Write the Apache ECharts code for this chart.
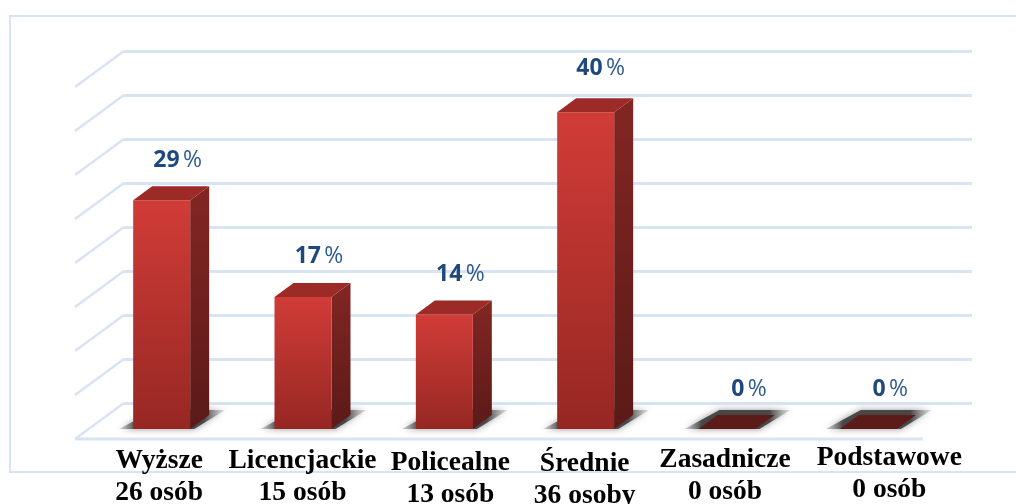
<!DOCTYPE html>
<html>
<head>
<meta charset="utf-8">
<style>html,body{margin:0;padding:0;background:#fff}#chart{width:1016px;height:504px}</style>
<script src="https://cdn.jsdelivr.net/npm/echarts@6/dist/echarts.min.js"></script>
</head>
<body>
<div id="chart"></div>
<script>
var categories = ['Wyższe', 'Licencjackie', 'Policealne', 'Średnie', 'Zasadnicze', 'Podstawowe'];
var peopleText = ['26 osób', '15 osób', '13 osób', '36 osoby', '0 osób', '0 osób'];
var people = [26, 15, 13, 36, 0, 0];
var percents = [29, 17, 14, 40, 0, 0];
var tickValues = [0, 5, 10, 15, 20, 25, 30, 35, 40];

// the original labels are not quite aligned, small nudges per category
var nameNudgeX = [-2.5, -0.5, 6, -1, -2, 21];
var nameNudgeY = [0, 0, 2, 3, -1, -3];
var pctNudgeX = [16, 16, 16, 15, 22, 22];
var pctNudgeY = [1, 0, 1, -3, 1, 1];

var lineColor = '#d8e4f4';
var chart = echarts.init(document.getElementById('chart'));

function grad(top, bottom) {
	return new echarts.graphic.LinearGradient(0, 0, 0, 1, [
		{ offset: 0, color: top },
		{ offset: 1, color: bottom }
	]);
}

// side walls of the floor, one short diagonal per tick plus the front edge
function renderFloor(params, api) {
	var p = api.coord([0, api.value(0)]);
	var left = params.coordSys.x;
	var right = params.coordSys.x + params.coordSys.width;
	var kids = [{
		type: 'line',
		shape: { x1: left, y1: p[1], x2: left - 49, y2: p[1] + 36 },
		style: { stroke: lineColor, lineWidth: 2.5 }
	}];
	if (api.value(0) === 0) {
		kids.push({
			type: 'line',
			shape: { x1: left - 49, y1: p[1] + 36, x2: right - 49, y2: p[1] + 36 },
			style: { stroke: lineColor, lineWidth: 3 }
		});
	}
	return { type: 'group', children: kids };
}

function renderBar(params, api) {
	var i = api.value(0);
	var top = api.coord([i, api.value(1)]);
	var base = api.coord([i, 0]);
	var w = 57, dx = 19, dy = 14;
	var x0 = base[0] - 33 - w / 2;
	var x1 = x0 + w;
	var yb = base[1] + 26;
	var yt = yb - (base[1] - top[1]);
	var kids = [];

	// soft shadow on the floor
	kids.push({
		type: 'polygon',
		shape: { points: [[x0 - 14, yb], [x1 + 4, yb], [x1 + dx + 16, yb - dy - 5], [x0 + dx + 2, yb - dy - 5]] },
		style: {
			fill: new echarts.graphic.LinearGradient(0, 0, 1, 0, [
				{ offset: 0, color: 'rgba(140,140,140,0.35)' },
				{ offset: 0.16, color: 'rgba(60,60,60,0.9)' },
				{ offset: 0.8, color: 'rgba(60,60,60,0.9)' },
				{ offset: 1, color: 'rgba(170,170,170,0.3)' }
			]),
			shadowBlur: 7,
			shadowColor: 'rgba(110,110,110,0.8)'
		}
	});
	if (api.value(1) > 0) {
		kids.push({
			type: 'polygon',
			shape: { points: [[x1, yt], [x1 + dx, yt - dy], [x1 + dx, yb - dy], [x1, yb]] },
			style: { fill: grad('#832623', '#5a1a18') }
		});
		kids.push({
			type: 'rect',
			shape: { x: x0, y: yt, width: w, height: yb - yt },
			style: { fill: grad('#d13c37', '#962723') }
		});
		kids.push({
			type: 'polygon',
			shape: { points: [[x0, yt], [x0 + dx, yt - dy], [x1 + dx, yt - dy], [x1, yt]] },
			style: { fill: '#9c2b28' }
		});
	} else {
		kids.push({
			type: 'polygon',
			shape: { points: [[x0, yt], [x0 + dx, yt - dy], [x1 + dx, yt - dy], [x1, yt]] },
			style: { fill: '#5c1a18' }
		});
	}

	// percent above the bar
	kids.push({
		type: 'text',
		style: {
			x: (x0 + x1) / 2 + pctNudgeX[i],
			y: yt - dy - 27 + pctNudgeY[i],
			text: '{b|' + percents[i] + '} {r|%}',
			align: 'center',
			verticalAlign: 'middle',
			rich: {
				b: { font: 'bold 23px "Open Sans"', fill: '#1f497d' },
				r: { font: '23px "Open Sans"', fill: '#2f5b94' }
			}
		}
	});
	// category name and head count under the floor
	kids.push({
		type: 'text',
		style: {
			x: (x0 + x1) / 2 + nameNudgeX[i],
			y: 445 + nameNudgeY[i],
			text: categories[i] + '\n' + peopleText[i],
			align: 'center',
			verticalAlign: 'top',
			font: 'bold 27.5px "Liberation Serif"',
			lineHeight: 32,
			fill: '#000'
		}
	});
	return { type: 'group', children: kids };
}

var option = {
	animation: false,
	backgroundColor: '#fff',
	// frame of the original picture, open on the right
	graphic: [{
		type: 'polyline',
		z: 0,
		shape: { points: [[1016, 16], [10, 16], [10, 472], [1016, 472]] },
		style: { fill: 'none', stroke: lineColor, lineWidth: 2 }
	}],
	grid: { left: 124, top: 51, width: 848, height: 352 },
	xAxis: {
		type: 'category',
		data: categories,
		axisLine: { show: false },
		axisTick: { show: false },
		axisLabel: { show: false }
	},
	yAxis: {
		type: 'value',
		min: 0,
		max: 40,
		interval: 5,
		axisLine: { show: false },
		axisTick: { show: false },
		axisLabel: { show: false },
		splitLine: { lineStyle: { color: lineColor, width: 3 } }
	},
	series: [{
		type: 'custom',
		renderItem: renderFloor,
		clip: false,
		z: 1,
		data: tickValues.map(function(v) { return [v]; })
	}, {
		type: 'custom',
		renderItem: renderBar,
		clip: false,
		z: 2,
		encode: { x: 0, y: 1 },
		data: people.map(function(v, i) { return [i, v]; })
	}]
};
chart.setOption(option);
</script>
</body>
</html>
